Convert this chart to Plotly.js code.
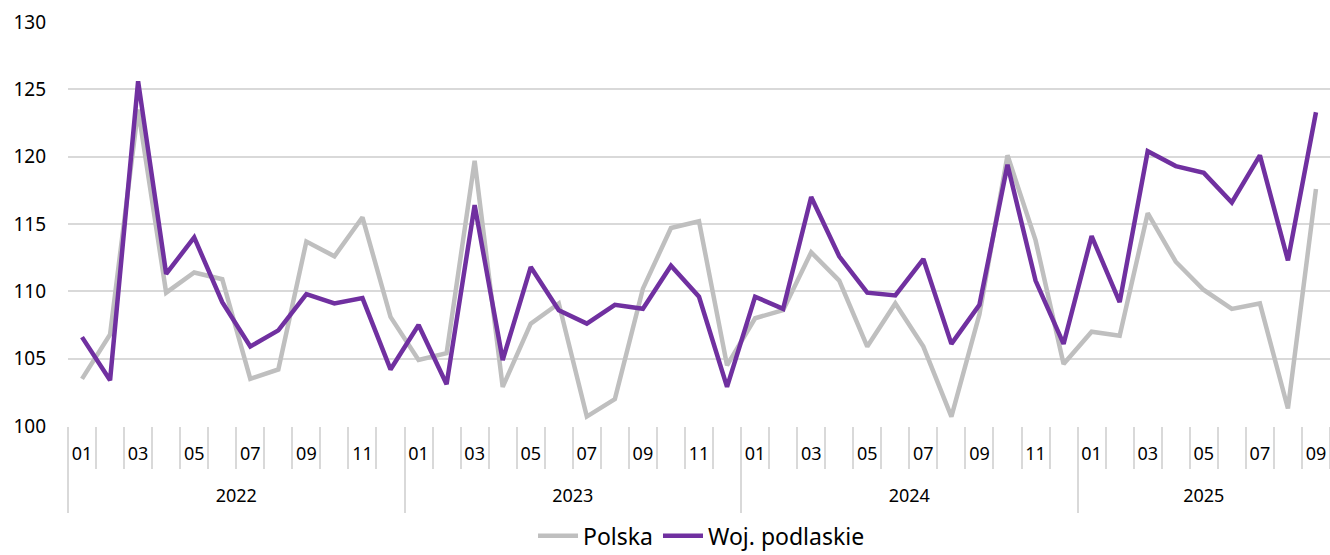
<!DOCTYPE html>
<html>
<head>
<meta charset="utf-8">
<script src="https://cdn.plot.ly/plotly-3.0.1.min.js"></script>
<style>html,body{margin:0;padding:0;background:#fff;}#chart{width:1330px;height:555px;}</style>
</head>
<body>
<div id="chart"></div>
<script>
const years = ["2022", "2023", "2024", "2025"];
const monthsPerYear = [12, 12, 12, 9];
const monthLabels = ["01","02","03","04","05","06","07","08","09","10","11","12"];

const polska = [
  103.5, 106.8, 123.5, 109.9, 111.4, 110.9, 103.5, 104.2, 113.7, 112.6, 115.5, 108.1,
  104.9, 105.4, 119.7, 102.9, 107.6, 109.1, 100.7, 102.0, 110.2, 114.7, 115.2, 104.5,
  108.0, 108.6, 112.9, 110.8, 105.9, 109.1, 105.9, 100.7, 108.3, 120.1, 113.8, 104.6,
  107.0, 106.7, 115.8, 112.2, 110.1, 108.7, 109.1, 101.3, 117.6
];
const podlaskie = [
  106.6, 103.4, 125.6, 111.3, 114.0, 109.2, 105.9, 107.1, 109.8, 109.1, 109.5, 104.2,
  107.5, 103.1, 116.4, 104.9, 111.8, 108.6, 107.6, 109.0, 108.7, 111.9, 109.6, 102.9,
  109.6, 108.7, 117.0, 112.6, 109.9, 109.7, 112.4, 106.1, 109.0, 119.4, 110.8, 106.1,
  114.1, 109.2, 120.4, 119.3, 118.8, 116.6, 120.1, 112.3, 123.3
];

// build category positions
const idx = [], monthText = [], monthIdx = [], boundaries = [], yearStarts = [], yearCenters = [];
let k = 0;
years.forEach((y, yi) => {
  yearStarts.push(k - 0.5);
  yearCenters.push(k + (monthsPerYear[yi] - 1) / 2);
  for (let m = 0; m < monthsPerYear[yi]; m++) {
    idx.push(k);
    if (m % 2 === 0) { monthIdx.push(k); monthText.push(monthLabels[m]); }
    boundaries.push(k - 0.5);
    k++;
  }
});
boundaries.push(k - 0.5);
const xr = [-0.5, k - 0.5];

const FONT = "Noto Sans, DejaVu Sans, sans-serif";
const GRID = "#d9d9d9";

const traces = [
  {x: idx, y: polska, name: "Polska", type: "scatter", mode: "lines",
   line: {color: "#bfbfbf", width: 4.5}, xaxis: "x", yaxis: "y"},
  {x: idx, y: podlaskie, name: "Woj. podlaskie", type: "scatter", mode: "lines",
   line: {color: "#7030a0", width: 4.5}, xaxis: "x", yaxis: "y"},
  // invisible helpers to activate overlay axes
  {x: xr, y: [null, null], xaxis: "x2", yaxis: "y", showlegend: false, hoverinfo: "skip", mode: "lines"},
  {x: xr, y: [null, null], xaxis: "x3", yaxis: "y", showlegend: false, hoverinfo: "skip", mode: "lines"},
  {x: xr, y: [null, null], xaxis: "x4", yaxis: "y", showlegend: false, hoverinfo: "skip", mode: "lines"}
];

const layout = {
  width: 1330, height: 555,
  margin: {l: 68, r: 0, t: 22, b: 129, autoexpand: false},
  paper_bgcolor: "#fff", plot_bgcolor: "#fff",
  font: {family: FONT, color: "#000"},
  showlegend: true,
  legend: {orientation: "h", x: 0.502, xanchor: "center", y: -0.272, yanchor: "middle",
           font: {family: FONT, size: 23, color: "#000"}, itemwidth: 40, tracegroupgap: 0},
  xaxis: {range: xr, tickmode: "array", tickvals: monthIdx, ticktext: monthText,
          ticks: "", showgrid: false, zeroline: false, showline: false,
          tickfont: {family: FONT, size: 18, color: "#000"}, ticklabelstandoff: 15, fixedrange: true},
  xaxis2: {range: xr, overlaying: "x", anchor: "y", side: "bottom", tickmode: "array",
           tickvals: boundaries, showticklabels: false, ticks: "outside", ticklen: 42,
           tickwidth: 2, tickcolor: GRID, showgrid: false, zeroline: false, showline: false},
  xaxis3: {range: xr, overlaying: "x", anchor: "y", side: "bottom", tickmode: "array",
           tickvals: yearStarts, showticklabels: false, ticks: "outside", ticklen: 86,
           tickwidth: 2, tickcolor: GRID, showgrid: false, zeroline: false, showline: false},
  xaxis4: {range: xr, overlaying: "x", anchor: "y", side: "bottom", tickmode: "array",
           tickvals: yearCenters, ticktext: years, ticks: "", showgrid: false, zeroline: false,
           showline: false, tickfont: {family: FONT, size: 18, color: "#000"}, ticklabelstandoff: 57},
  yaxis: {range: [100, 130], dtick: 5, tick0: 100, showgrid: true, gridcolor: GRID, gridwidth: 2,
          zeroline: false, showline: false, ticks: "", ticklabelstandoff: 21,
          tickfont: {family: FONT, size: 19, color: "#000"}, fixedrange: true}
};

Plotly.newPlot("chart", traces, layout, {displayModeBar: false, staticPlot: true});
</script>
</body>
</html>
